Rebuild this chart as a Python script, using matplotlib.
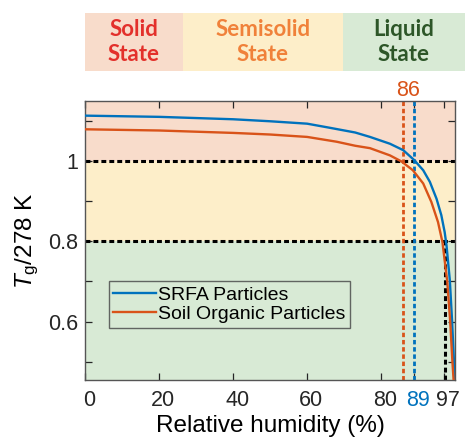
import matplotlib
matplotlib.use('Agg')
import matplotlib.pyplot as plt
import matplotlib.transforms as mtransforms
from matplotlib.patches import Rectangle

plt.rcParams['font.family'] = 'Liberation Sans'
plt.rcParams['mathtext.fontset'] = 'custom'
plt.rcParams['mathtext.rm'] = 'Liberation Sans'
plt.rcParams['mathtext.it'] = 'Liberation Sans:italic'

# relative humidity (%) vs reduced glass transition temperature
rh_srfa = [0, 20, 40, 50, 60, 66, 73, 77, 82.4, 86, 89, 91.4, 93.2, 95, 96.3,
           97.2, 97.7, 98.6, 99.2, 99.7, 100]
tg_srfa = [1.113, 1.110, 1.104, 1.099, 1.093, 1.083, 1.071, 1.060, 1.043, 1.027,
           1.002, 0.977, 0.948, 0.906, 0.865, 0.823, 0.790, 0.703, 0.603, 0.504, 0.44]
rh_soil = [0, 20, 40, 50, 60, 68, 73, 77, 82.4, 85.5, 88.6, 91.4, 93.6, 95.4,
           96.6, 97.9, 98.7, 99.3, 100]
tg_soil = [1.079, 1.076, 1.070, 1.066, 1.060, 1.048, 1.038, 1.032, 1.014, 0.999,
           0.977, 0.944, 0.898, 0.848, 0.798, 0.70, 0.60, 0.50, 0.40]

series_labels = ['SRFA Particles', 'Soil Organic Particles']
state_names = ['Solid\nState', 'Semisolid\nState', 'Liquid\nState']
state_limits = [1.0, 0.8]          # Tg/T boundaries between the states
rh_transition = {'soil': 86, 'srfa': 89, 'liquid': 97.4}

xticks = [0, 20, 40, 60, 80, 89, 97]
yticks = [0.5, 0.6, 0.7, 0.8, 0.9, 1.0, 1.1]
ytick_labels = ['', '0.6', '', '0.8', '', '1', '']

blue = '#0072BD'
orange = '#D95319'
pink = '#f8dccb'
yellow = '#fdeec9'
green = '#d8ead5'

fig = plt.figure(figsize=(4.65, 4.4), dpi=100)
ax = fig.add_axes([0.1835, 0.136, 0.795, 0.634])

ymin, ymax = 0.454, 1.149
ax.set_xlim(0, 100)
ax.set_ylim(ymin, ymax)

# state background bands
ax.axhspan(state_limits[0], ymax, color=pink, lw=0, zorder=0)
ax.axhspan(state_limits[1], state_limits[0], color=yellow, lw=0, zorder=0)
ax.axhspan(ymin, state_limits[1], color=green, lw=0, zorder=0)

dots = (0, (1.6, 1.0))
for y in state_limits:
    ax.axhline(y, color='black', lw=2.2, ls=dots, zorder=2)
ax.plot([rh_transition['liquid']] * 2, [ymin, state_limits[1]], color='black',
        lw=2.2, ls=dots, zorder=2)
ax.axvline(rh_transition['soil'], color=orange, lw=2.0, ls=dots, zorder=2)
ax.axvline(rh_transition['srfa'], color=blue, lw=2.0, ls=dots, zorder=2)

ax.plot(rh_srfa, tg_srfa, color=blue, lw=1.7, label=series_labels[0], zorder=3)
ax.plot(rh_soil, tg_soil, color=orange, lw=1.7, label=series_labels[1], zorder=3)

ax.set_xticks(xticks)
ax.set_xticklabels([str(t) for t in xticks])
ax.set_yticks(yticks)
ax.set_yticklabels(ytick_labels)
ax.tick_params(direction='in', length=5, width=0.9, colors='#262626',
               labelsize=15.5, top=True, right=True, pad=7)
ax.tick_params(axis='y', pad=5)
for lbl in ax.get_xticklabels():
    if lbl.get_text() == str(rh_transition['srfa']):
        lbl.set_color(blue)
offset = mtransforms.ScaledTranslation(4 / 100, 0, fig.dpi_scale_trans)
for lbl in ax.xaxis.get_majorticklabels():
    lbl.set_transform(lbl.get_transform() + offset)

for sp in ax.spines.values():
    sp.set_color('#555555')
    sp.set_linewidth(1.0)

ax.text(rh_transition['soil'] + 1.2, 1.0, str(rh_transition['soil']),
        transform=mtransforms.blended_transform_factory(ax.transData, ax.transAxes),
        color=orange, fontsize=15.5, ha='center', va='bottom')

ax.set_xlabel('Relative humidity (%)', fontsize=17.5, labelpad=3)
ax.set_ylabel(r'$T_{\mathrm{g}}$/278 K', fontsize=17.5, labelpad=5)

leg = ax.legend(loc='upper left', bbox_to_anchor=(0.063, 0.355), fontsize=14,
                frameon=True, fancybox=False, handlelength=2.2, handletextpad=0.1,
                borderpad=0.25, labelspacing=0.1, borderaxespad=0)
leg.get_frame().set_edgecolor('#444444')
leg.get_frame().set_facecolor(green)
leg.get_frame().set_linewidth(1.0)

# state header boxes
hax = fig.add_axes([85 / 465, 1 - 71 / 440, 380 / 465, 58 / 440])
hax.set_xlim(85, 465)
hax.set_ylim(0, 1)
hax.axis('off')
edges = [85, 183, 343, 465]
fills = [pink, yellow, green]
text_colors = ['#e3302b', '#f0813a', '#2d5628']
for i, name in enumerate(state_names):
    hax.add_patch(Rectangle((edges[i], 0), edges[i + 1] - edges[i], 1,
                            facecolor=fills[i], edgecolor='none'))
    hax.text((edges[i] + edges[i + 1]) / 2, 0.5, name, ha='center', va='center',
             fontsize=16, fontweight='bold', family='Lato', color=text_colors[i],
             linespacing=1.25)

fig.savefig('out.png', dpi=100)
